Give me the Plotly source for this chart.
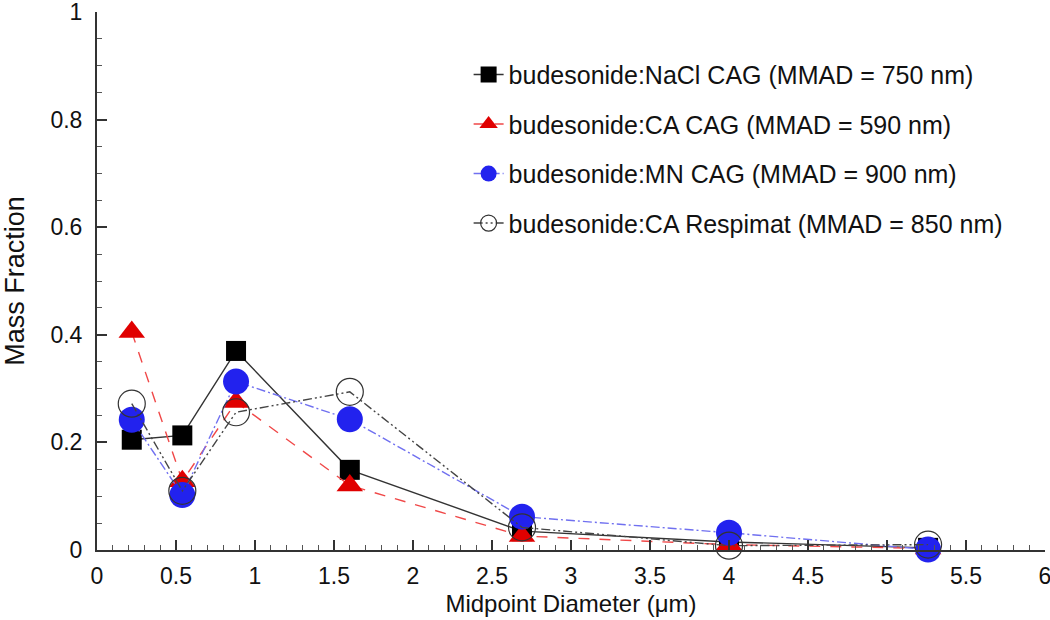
import plotly.graph_objects as go

diameter = [0.22, 0.54, 0.88, 1.6, 2.69, 4.0, 5.26]
nacl_cag = [0.205, 0.213, 0.37, 0.149, 0.035, 0.015, 0.004]
ca_cag = [0.405, 0.128, 0.275, 0.12, 0.026, 0.01, 0.003]
mn_cag = [0.242, 0.102, 0.313, 0.243, 0.062, 0.032, 0.001]
ca_respimat = [0.272, 0.11, 0.256, 0.294, 0.042, 0.008, 0.01]

names = [
    "budesonide:NaCl CAG (MMAD = 750 nm)",
    "budesonide:CA CAG (MMAD = 590 nm)",
    "budesonide:MN CAG (MMAD = 900 nm)",
    "budesonide:CA Respimat (MMAD = 850 nm)",
]

FONT = "Liberation Sans, Arial, Helvetica, sans-serif"

fig = go.Figure()
fig.add_trace(go.Scatter(
    x=diameter, y=nacl_cag, name=names[0], legendgroup="a", mode="lines+markers",
    line=dict(color="#333333", width=1.4, dash="solid"),
    marker=dict(symbol="square", size=20, color="#000000"),
    cliponaxis=False))
fig.add_trace(go.Scatter(
    x=diameter, y=ca_cag, name=names[1], legendgroup="b", mode="lines+markers",
    line=dict(color="#f04848", width=1.4, dash="11px,10px"),
    marker=dict(symbol="triangle-up", size=23, color="#e00000"),
    cliponaxis=False))
fig.add_trace(go.Scatter(
    x=diameter, y=mn_cag, name=names[2], legendgroup="c", mode="lines+markers",
    line=dict(color="#7070f0", width=1.4, dash="9px,3px,2px,3px"),
    marker=dict(symbol="circle", size=26, color="#2222ee"),
    cliponaxis=False))
fig.add_trace(go.Scatter(
    x=diameter, y=ca_respimat, name=names[3], legendgroup="d", mode="lines+markers",
    line=dict(color="#444444", width=1.4, dash="9px,3px,2px,3px,2px,3px"),
    marker=dict(symbol="circle-open", size=27, color="#333333", line=dict(width=1.2)),
    cliponaxis=False))

axis_common = dict(
    showline=True, linecolor="#333333", linewidth=2, mirror=False,
    ticks="inside", ticklen=10, tickwidth=2, tickcolor="#333333",
    showgrid=False, zeroline=False, automargin=False, ticklabeloverflow="allow",
    tickfont=dict(family=FONT, size=23, color="#111111"),
)

fig.update_xaxes(
    range=[0, 6], dtick=0.5, tick0=0, ticklabelstandoff=4,
    minor=dict(ticks="inside", dtick=0.1, ticklen=5, tickwidth=1, tickcolor="#555555"),
    title=dict(text="Midpoint Diameter (μm)", font=dict(family=FONT, size=24, color="#111111"), standoff=8),
    **axis_common)
fig.update_yaxes(
    range=[0, 1], dtick=0.2, tick0=0, tickformat="~g", ticklabelstandoff=8,
    minor=dict(ticks="inside", dtick=0.05, ticklen=5, tickwidth=1, tickcolor="#555555"),
    title=dict(text="Mass Fraction", font=dict(family=FONT, size=27, color="#111111"), standoff=30),
    **axis_common)

fig.update_layout(
    width=1050, height=620,
    margin=dict(l=97, r=5, t=12, b=70),
    paper_bgcolor="white", plot_bgcolor="white",
    legend=dict(
        x=0.392, y=0.926, xanchor="left", yanchor="top",
        font=dict(family=FONT, size=25, color="#111111"),
        tracegroupgap=14, bgcolor="rgba(0,0,0,0)",
    ),
)

fig.write_html("out.html", config={"displayModeBar": False},
               post_script="document.body.style.margin='0px';")
